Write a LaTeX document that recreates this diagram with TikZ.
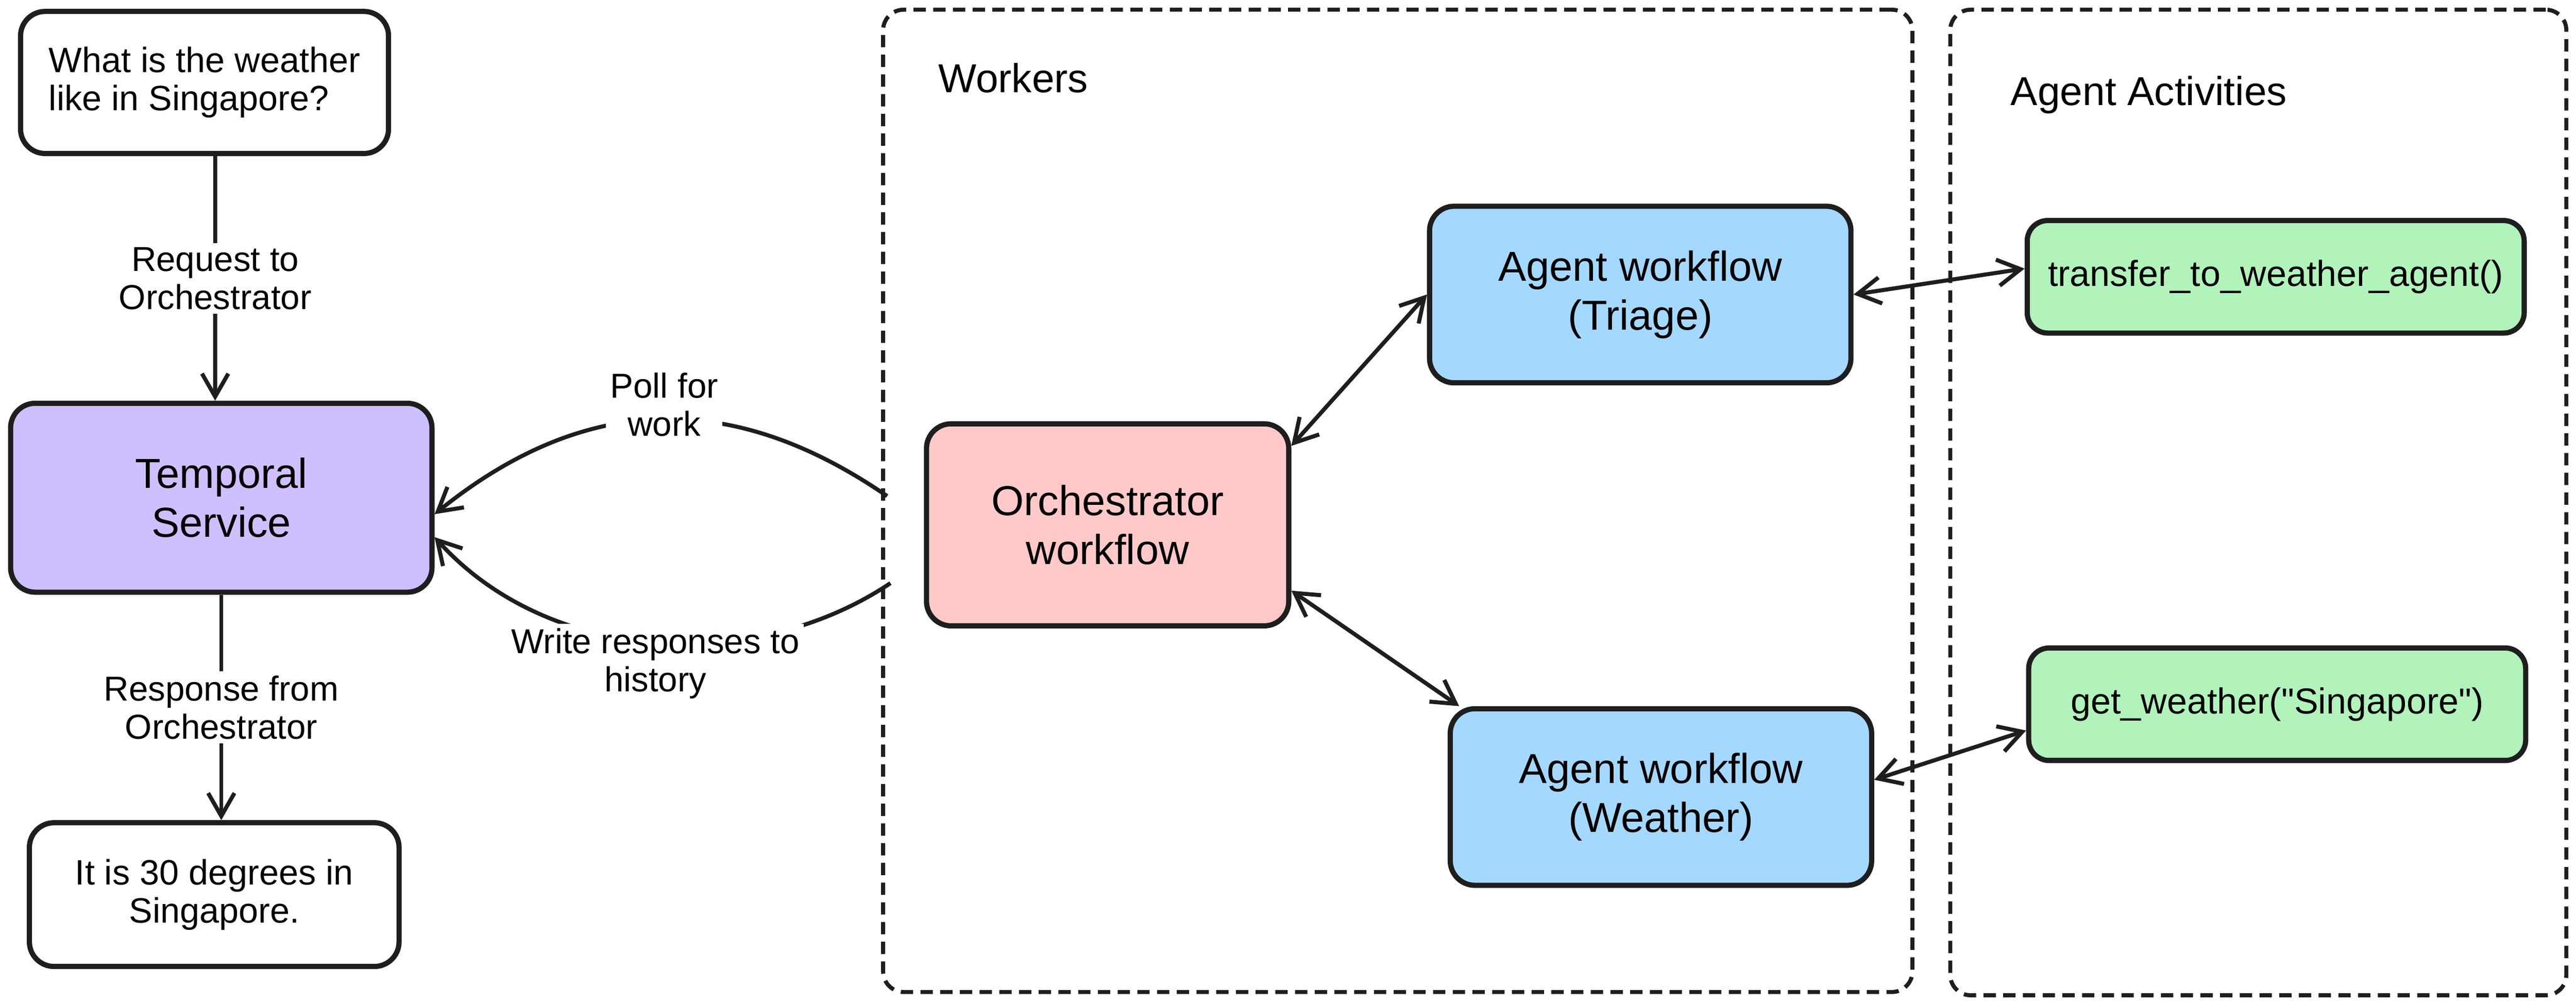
\documentclass[tikz,border=0pt]{standalone}
\usepackage{fontspec}
\setmainfont{Liberation Sans}
\usetikzlibrary{arrows.meta,positioning}
\definecolor{ink}{HTML}{1E1E1E}
\definecolor{temporalpurple}{HTML}{D0BFFF}
\definecolor{orchpink}{HTML}{FFC9C9}
\definecolor{agentblue}{HTML}{A5D8FF}
\definecolor{toolgreen}{HTML}{B2F2BB}

\begin{document}
\begin{tikzpicture}[
  x=0.2mm, y=-0.2mm,
  box/.style={draw=ink, line width=1.8pt, rounded corners=3mm, align=center,
              font=\fontsize{14.5}{17}\selectfont},
  plain/.style={box, fill=white, font=\fontsize{12.2}{13.2}\selectfont},
  agent/.style={box, fill=agentblue, minimum width=51.3mm, minimum height=21.5mm},
  tool/.style={box, fill=toolgreen, rounded corners=2.5mm, minimum width=60.5mm,
               minimum height=13.7mm, font=\fontsize{12.5}{14}\selectfont},
  frame/.style={draw=ink, line width=1.4pt, dash pattern=on 1.5mm off 0.9mm,
                rounded corners=2.5mm, inner sep=0pt},
  head/.style={anchor=west, font=\fontsize{14}{16}\selectfont},
  lbl/.style={fill=white, align=center, inner sep=1.5pt,
              font=\fontsize{12}{13.2}\selectfont},
  arrow/.style={draw=ink, line width=1.4pt, -{Straight Barb[length=2.8mm,width=3.2mm]}},
  biarrow/.style={arrow, {Straight Barb[length=2.8mm,width=3.2mm]}-{Straight Barb[length=2.8mm,width=3.2mm]}}
]
\useasboundingbox[fill=white] (0,0) rectangle (1568,611);

\node[frame, minimum width=125.3mm, minimum height=119.6mm] (workers) at (850.8,304.9) {};
\node[frame, minimum width=75mm, minimum height=120mm] (activities) at (1374.6,305.9) {};
\node[head] (workerslbl) at (565,47.5) {Workers};
\node[head] (activitieslbl) at (1217.7,57.7) {Agent Activities};

\node[plain, minimum width=44.8mm, minimum height=17.3mm, align=left] (question) at (124.5,50.2) {What is the weather\\like in Singapore?};
\node[box, fill=temporalpurple, minimum width=51.3mm, minimum height=23mm] (temporal) at (134.7,303) {Temporal\\Service};
\node[plain, minimum width=45mm, minimum height=17.5mm] (answer) at (130.4,544.6) {It is 30 degrees in\\Singapore.};

\node[box, fill=orchpink, minimum width=44.1mm, minimum height=24.6mm] (orch) at (674.2,319.5) {Orchestrator\\workflow};
\node[agent] (triage) at (998.4,179.3) {Agent workflow\\(Triage)};
\node[agent] (weather) at (1011,485.2) {Agent workflow\\(Weather)};
\node[tool] (transfer) at (1385.2,168.5) {transfer\_to\_weather\_agent()};
\node[tool] (getweather) at (1386.1,428.7) {get\_weather(\textquotedbl Singapore\textquotedbl)};

\coordinate (pollstart) at (540,302);
\coordinate (writestart) at (542,355);

\draw[arrow] ([xshift=1.3mm]question.south) -- node[lbl] {Request to\\Orchestrator} ([xshift=-0.75mm]temporal.north);
\draw[arrow] (temporal.south) -- node[lbl] {Response from\\Orchestrator} (temporal.south |- answer.north);
\draw[arrow] (pollstart) .. controls (450,240) and (360,236) .. node[lbl, midway, yshift=1.8mm] {Poll for\\work} ([yshift=-2mm]temporal.east);
\draw[arrow] (writestart) .. controls (460,410) and (335,405) .. node[lbl, midway, yshift=-2.6mm] {Write responses to\\history} ([yshift=-4.8mm]temporal.east);

\draw[biarrow] ([yshift=-3mm]orch.north east) -- (triage.west);
\draw[biarrow] ([yshift=4.6mm]orch.south east) -- ([xshift=1.4mm]weather.north west);
\draw[biarrow] (triage.east) -- ([yshift=1mm]transfer.west);
\draw[biarrow] ([yshift=2.1mm]weather.east) -- ([yshift=-3.2mm]getweather.west);
\end{tikzpicture}
\end{document}
